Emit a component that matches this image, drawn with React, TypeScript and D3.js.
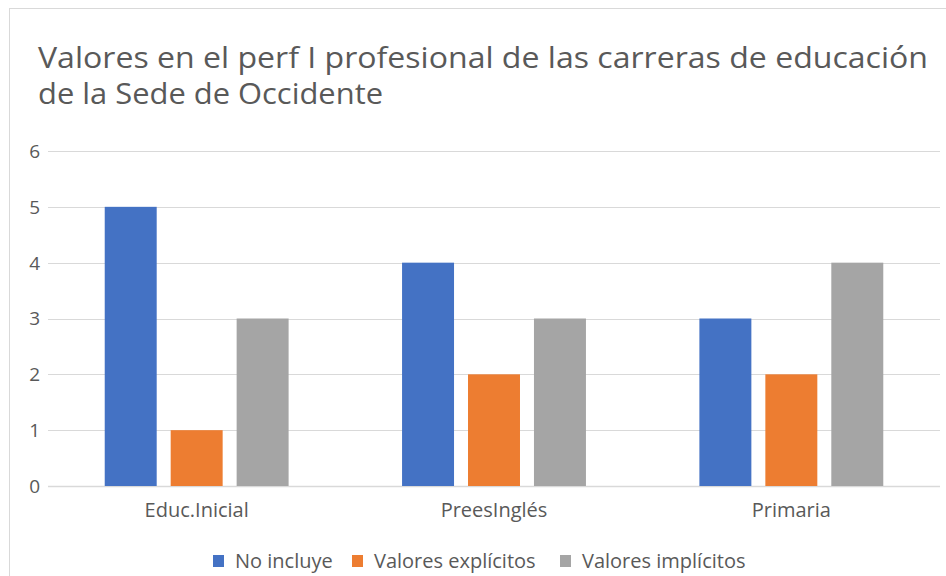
import React from 'react';
import * as d3 from 'd3';

const categories = ['Educ.Inicial', 'PreesInglés', 'Primaria'];
const seriesNames = ['No incluye', 'Valores explícitos', 'Valores implícitos'];
const noIncluye = [5, 4, 3];
const explicitos = [1, 2, 2];
const implicitos = [3, 3, 4];
const yTicks = [0, 1, 2, 3, 4, 5, 6];
const colors = ['#4472C4', '#ED7D31', '#A5A5A5'];

const W = 946, H = 576;
const FONT = '"Open Sans", "Noto Sans", sans-serif';
const TEXT = '#595959';

function App() {
  const seriesValues = [noIncluye, explicitos, implicitos];

  const margin = { top: 151, right: 6, bottom: 90, left: 48 };

  const x0 = d3.scaleBand()
    .domain(categories)
    .range([margin.left, W - margin.right])
    .padding(0);

  const x1 = d3.scaleBand()
    .domain(seriesNames)
    .range([0, x0.bandwidth()])
    .paddingInner(0.212)
    .paddingOuter(0.86);

  const y = d3.scaleLinear()
    .domain([0, 6])
    .range([H - margin.bottom, margin.top]);

  return (
    <svg width={W} height={H} style={{ position: 'absolute', left: 0, top: 0, background: '#fff' }}>
      <rect x={9.5} y={8.5} width={W} height={H} fill="#fff" stroke="#D9D9D9" />

      {/* title */}
      <text x={38} y={68} fill={TEXT} fontFamily={FONT} fontSize={30}
        textLength={890} lengthAdjust="spacingAndGlyphs">
        Valores en el perf I profesional de las carreras de educación
      </text>
      <text x={38} y={104} fill={TEXT} fontFamily={FONT} fontSize={30}
        textLength={345} lengthAdjust="spacingAndGlyphs">
        de la Sede de Occidente
      </text>

      {/* grid + y labels */}
      {yTicks.map(t => (
        <g key={t}>
          <line x1={margin.left} x2={W - margin.right} y1={Math.round(y(t)) + 0.5} y2={Math.round(y(t)) + 0.5}
            stroke="#D9D9D9" strokeWidth={t === 0 ? 1.5 : 1} />
          <text x={40} y={y(t)} dy="0.36em" textAnchor="end" fill={TEXT}
            fontFamily={FONT} fontSize={19}>{t}</text>
        </g>
      ))}

      {/* bars */}
      {categories.map((c, ci) => (
        <g key={c} transform={`translate(${x0(c)},0)`}>
          {seriesNames.map((s, si) => (
            <rect key={s} x={x1(s)} y={y(seriesValues[si][ci])}
              width={x1.bandwidth()} height={y(0) - y(seriesValues[si][ci])}
              fill={colors[si]} />
          ))}
          <text x={x0.bandwidth() / 2} y={517} textAnchor="middle" fill={TEXT}
            fontFamily={FONT} fontSize={20}>{c}</text>
        </g>
      ))}

      {/* legend */}
      {[213, 352, 560].map((lx, i) => (
        <g key={seriesNames[i]} transform={`translate(${lx},555)`}>
          <rect x={0} y={0} width={11} height={12} fill={colors[i]} />
          <text x={22} y={13} fill={TEXT} fontFamily={FONT} fontSize={20}>{seriesNames[i]}</text>
        </g>
      ))}
    </svg>
  );
}

export default App;
